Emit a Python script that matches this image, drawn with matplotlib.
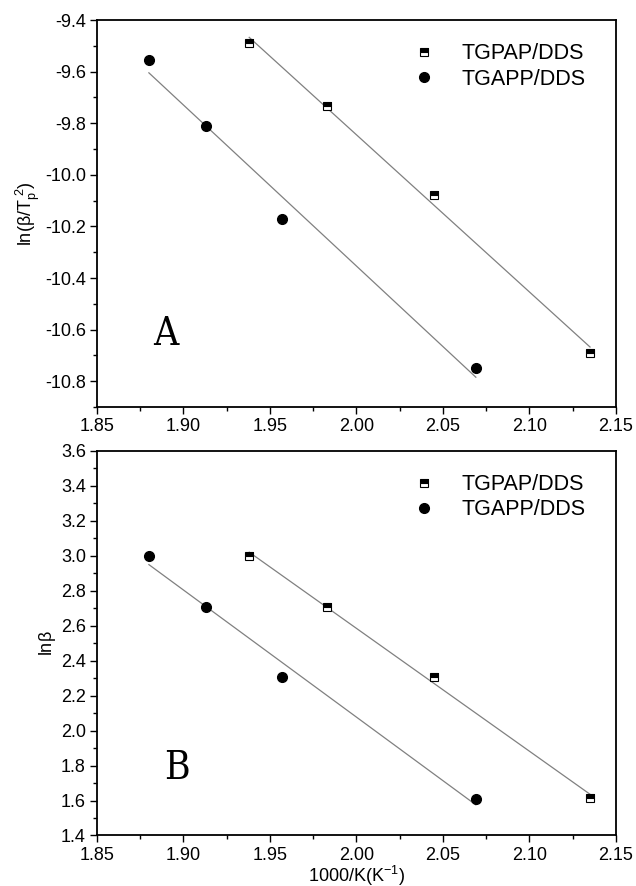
import numpy as np
import matplotlib
matplotlib.use("Agg")
import matplotlib.pyplot as plt
from matplotlib.ticker import MultipleLocator

plt.rcParams['font.family'] = ['Liberation Sans', 'DejaVu Sans']
plt.rcParams['mathtext.fontset'] = 'custom'
plt.rcParams['mathtext.rm'] = 'Liberation Sans'
plt.rcParams['mathtext.it'] = 'Liberation Sans'

# Data
x_tgpap = [1.938, 1.983, 2.045, 2.135]
x_tgapp = [1.880, 1.913, 1.957, 2.069]
yA_tgpap = [-9.49, -9.735, -10.08, -10.69]
yA_tgapp = [-9.555, -9.81, -10.17, -10.75]
yB_tgpap = [3.00, 2.71, 2.305, 1.615]
yB_tgapp = [3.00, 2.71, 2.305, 1.61]
series_labels = ["TGPAP/DDS", "TGAPP/DDS"]
x_ticks = [1.85, 1.90, 1.95, 2.00, 2.05, 2.10, 2.15]

fig = plt.figure(figsize=(6.36, 8.86), dpi=100)
axA = fig.add_axes([0.1525, 0.5406, 0.816, 0.4368])
axB = fig.add_axes([0.1525, 0.0570, 0.816, 0.4340])

def panel(ax, ya, yb, ylim, ymaj, ylabel, letter, letter_xy):
    xa = np.array(x_tgpap); xb = np.array(x_tgapp)
    for xs, ys in ((xa, ya), (xb, yb)):
        p = np.polyfit(xs, ys, 1)
        ax.plot([xs.min(), xs.max()], np.polyval(p, [xs.min(), xs.max()]),
                color='#808080', lw=0.9, zorder=1)
    ax.plot(xa, ya, linestyle='none', marker='s', markersize=5.5, fillstyle='top',
            markerfacecolor='black', markerfacecoloralt='white', markeredgecolor='black',
            markeredgewidth=0.8, label=series_labels[0], zorder=3)
    ax.plot(xb, yb, linestyle='none', marker='o', markersize=7, color='black',
            label=series_labels[1], zorder=3)
    ax.set_xlim(1.85, 2.15)
    ax.set_xticks(x_ticks)
    ax.set_xticklabels([f"{t:.2f}" for t in x_ticks])
    ax.set_ylim(*ylim)
    ax.yaxis.set_major_locator(MultipleLocator(ymaj))
    ax.yaxis.set_minor_locator(MultipleLocator(ymaj / 2))
    ax.xaxis.set_minor_locator(MultipleLocator(0.025))
    ax.yaxis.set_major_formatter(matplotlib.ticker.FormatStrFormatter('%.1f'))
    ax.tick_params(which='both', direction='out', top=False, right=False,
                   labelsize=13, width=1.0)
    ax.tick_params(which='major', length=5, pad=3)
    ax.tick_params(which='minor', length=3)
    for s in ax.spines.values():
        s.set_linewidth(1.3)
    ax.set_ylabel(ylabel, fontsize=13, labelpad=2)
    ax.legend(loc='upper right', frameon=False, fontsize=15.5,
              bbox_to_anchor=(0.978, 0.99), handletextpad=1.2,
              labelspacing=0.2, handlelength=1.0)
    ax.text(letter_xy[0], letter_xy[1], letter, fontsize=28,
            family=['DejaVu Serif', 'Liberation Serif'], fontstretch='condensed',
            ha='center', va='center')

panel(axA, yA_tgpap, yA_tgapp, (-10.9, -9.4), 0.2, r'ln($\beta$/T$_{\rm p}^{\ 2}$)', 'A', (1.890, -10.62))
panel(axB, yB_tgpap, yB_tgapp, (1.4, 3.6), 0.2, r'ln$\beta$', 'B', (1.896, 1.786))
axB.set_xlabel(r'1000/K(K$^{-1}$)', fontsize=13, labelpad=0)

fig.savefig('out.png', dpi=100)
